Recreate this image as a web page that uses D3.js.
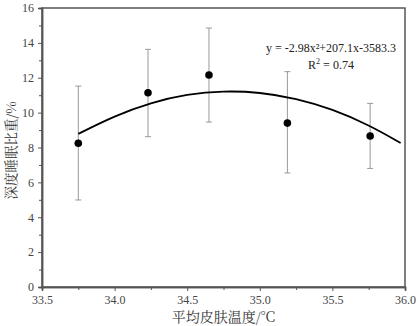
<!DOCTYPE html>
<html><head><meta charset="utf-8">
<script src="https://cdn.jsdelivr.net/npm/d3@7"></script>
<style>body{margin:0;background:#fff}svg{display:block}</style>
</head><body>
<svg id="chart" width="418" height="326"></svg>
<script>
// Data
const temps = [33.75, 34.23, 34.65, 35.19, 35.76];
const deepSleep = [8.24, 11.14, 12.16, 9.40, 8.66];
const errHigh = [11.52, 13.63, 14.85, 12.35, 10.53];
const errLow = [4.99, 8.62, 9.46, 6.54, 6.80];
// Fitted trend curve
const fitX = [33.75, 34.0, 34.25, 34.5, 34.75, 35.0, 35.25, 35.5, 35.75, 35.97];
const fitY = [8.78, 9.82, 10.58, 11.06, 11.25, 11.17, 10.82, 10.20, 9.30, 8.26];
const xTicks = [33.5, 34.0, 34.5, 35.0, 35.5, 36.0];
const yTicks = [0, 2, 4, 6, 8, 10, 12, 14, 16];
const xTitle = "平均皮肤温度/°C";
const yTitle = "深度睡眠比重/%";
const eqText = "y = -2.98x²+207.1x-3583.3";

const svg = d3.select("#chart");
const L = 42, R = 405, T = 8, B = 287;
const x = d3.scaleLinear().domain([33.5, 36.0]).range([L, R]);
const y = d3.scaleLinear().domain([0, 16]).range([B, T]);
const axisCol = "#555";
const font = "'Liberation Serif','Times New Roman',serif";
const cjk = "'Noto Serif CJK SC','Noto Sans CJK SC',serif";

// frame
svg.append("rect").attr("x", L).attr("y", T).attr("width", R - L).attr("height", B - T)
  .attr("fill", "none").attr("stroke", axisCol).attr("stroke-width", 1.5);

// axes with major and minor ticks
const xMinor = d3.range(33.75, 36.0, 0.5);
const yMinor = d3.range(1, 16, 2);
svg.append("g").attr("transform", `translate(0,${B})`)
  .call(d3.axisBottom(x).tickValues(xTicks).tickFormat(d3.format(".1f")).tickSize(4).tickPadding(4));
svg.append("g").attr("transform", `translate(${L},0)`)
  .call(d3.axisLeft(y).tickValues(yTicks).tickFormat(d3.format("d")).tickSize(4).tickPadding(4));
svg.append("g").attr("transform", `translate(0,${B})`)
  .call(d3.axisBottom(x).tickValues(xMinor).tickSize(3).tickFormat(""));
svg.append("g").attr("transform", `translate(${L},0)`)
  .call(d3.axisLeft(y).tickValues(yMinor).tickSize(3).tickFormat(""));
svg.selectAll(".domain").attr("stroke", axisCol).attr("stroke-width", 1.5);
svg.selectAll(".tick line").attr("stroke", axisCol).attr("stroke-width", 1);
svg.selectAll(".tick text").style("font-family", font).style("font-size", "12px").attr("fill", "#444");

// error bars
const pts = temps.map((t, i) => ({t, v: deepSleep[i], hi: errHigh[i], lo: errLow[i]}));
const eb = svg.append("g").attr("stroke", "#999").attr("stroke-width", 1);
pts.forEach(p => {
  eb.append("line").attr("x1", x(p.t)).attr("x2", x(p.t)).attr("y1", y(p.hi)).attr("y2", y(p.lo));
  [p.hi, p.lo].forEach(v => eb.append("line").attr("x1", x(p.t) - 3).attr("x2", x(p.t) + 3)
    .attr("y1", y(v)).attr("y2", y(v)));
});

// fitted curve
const line = d3.line().x((d, i) => x(fitX[i])).y((d, i) => y(fitY[i])).curve(d3.curveBasis);
svg.append("path").attr("d", line(fitX)).attr("fill", "none").attr("stroke", "#000").attr("stroke-width", 1.8);

// points
svg.append("g").selectAll("circle").data(pts).join("circle")
  .attr("cx", d => x(d.t)).attr("cy", d => y(d.v)).attr("r", 3.8).attr("fill", "#000");

// equation
svg.append("text").attr("x", 331).attr("y", 52).attr("text-anchor", "middle")
  .style("font-family", font).style("font-size", "12px").attr("fill", "#222").text(eqText);
svg.append("text").attr("x", 331).attr("y", 69).attr("text-anchor", "middle")
  .style("font-family", font).style("font-size", "12px").attr("fill", "#222")
  .html('R<tspan dy="-5" font-size="8">2</tspan><tspan dy="5"> = 0.74</tspan>');

// axis titles
svg.append("text").attr("x", (L + R) / 2).attr("y", 322).attr("text-anchor", "middle")
  .style("font-family", cjk).style("font-size", "14px").attr("fill", "#333").text(xTitle);
svg.append("text").attr("transform", `translate(15.5,${(T + B) / 2 + 3}) rotate(-90)`).attr("text-anchor", "middle")
  .style("font-family", cjk).style("font-size", "13.5px").attr("fill", "#333").text(yTitle);
</script>
</body></html>
